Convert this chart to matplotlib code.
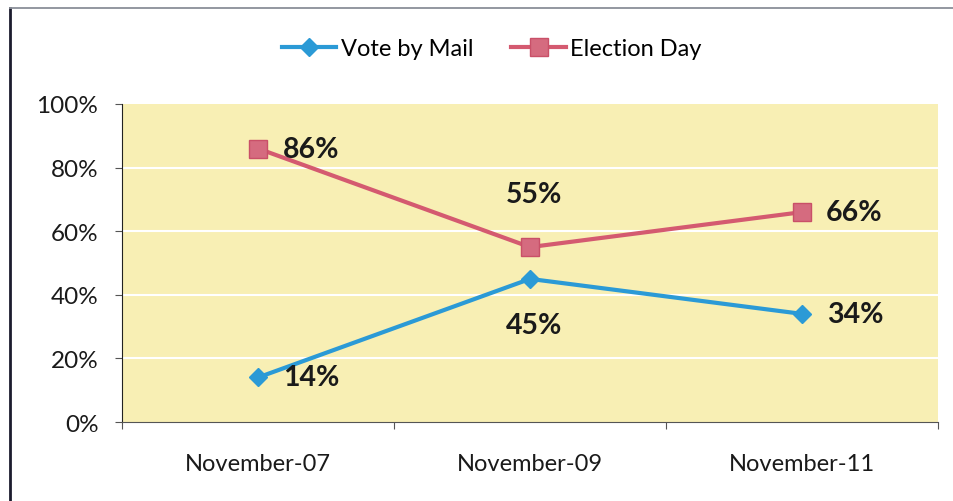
import matplotlib.pyplot as plt
from matplotlib.lines import Line2D

dates = ["November-07", "November-09", "November-11"]
vote_by_mail = [14, 45, 34]
election_day = [86, 55, 66]
y_ticks = [0, 20, 40, 60, 80, 100]

blue = "#2b9ad6"
red = "#d45a70"

plt.rcParams['font.family'] = ['Lato', 'DejaVu Sans']

fig = plt.figure(figsize=(9.54, 5.02), dpi=100)
ax = fig.add_axes([122 / 954, 1 - 423 / 502, 816 / 954, 318 / 502])

# outer chart frame (left and top edges only)
fig.lines.append(Line2D([10 / 954, 10 / 954], [0, 1 - 9 / 502], transform=fig.transFigure,
                        color="#1c1c2e", lw=2))
fig.lines.append(Line2D([10 / 954, 1], [1 - 9 / 502, 1 - 9 / 502], transform=fig.transFigure,
                        color="#8a8f99", lw=1.3))

ax.set_facecolor("#f8efb4")
xs = [i + 0.5 for i in range(len(dates))]

ax.plot(xs, vote_by_mail, color=blue, lw=3, marker="D", ms=9, mfc=blue, mec=blue,
        label="Vote by Mail", zorder=3)
ax.plot(xs, election_day, color=red, lw=3, marker="s", ms=13, mfc="#d56b7f", mec="#c95068",
        label="Election Day", zorder=3)

ax.set_xlim(0, 3)
ax.set_ylim(0, 100)
ax.set_yticks(y_ticks)
ax.set_yticklabels([f"{v}%" for v in y_ticks])
ax.set_xticks([0, 1, 2, 3])
ax.set_xticklabels([])
ax.set_xticks(xs, minor=True)
ax.set_xticklabels(dates, minor=True)
ax.tick_params(axis="x", which="minor", length=0, pad=22, labelsize=17, labelcolor="#1a1a1a")
ax.tick_params(axis="x", which="major", length=5, direction="out", color="#555555")
ax.tick_params(axis="y", length=5, color="#555555", labelsize=17.5, pad=12, labelcolor="#1a1a1a")

for v in y_ticks[1:-1]:
    ax.axhline(v, color="white", lw=1.5, zorder=1)

for s in ["top", "right"]:
    ax.spines[s].set_visible(False)
ax.spines["left"].set_color("#222222")
ax.spines["bottom"].set_color("#555555")

# value labels
lab = dict(fontsize=20.5, fontweight="bold", color="#1a1a1a", zorder=4)
ax.annotate(f"{election_day[0]}%", (xs[0], election_day[0]), xytext=(18, 0),
            textcoords="offset points", ha="left", va="center", **lab)
ax.annotate(f"{election_day[1]}%", (xs[1], election_day[1]), xytext=(3, 38),
            textcoords="offset points", ha="center", va="center", **lab)
ax.annotate(f"{election_day[2]}%", (xs[2], election_day[2]), xytext=(17, 0),
            textcoords="offset points", ha="left", va="center", **lab)
ax.annotate(f"{vote_by_mail[0]}%", (xs[0], vote_by_mail[0]), xytext=(18, 0),
            textcoords="offset points", ha="left", va="center", **lab)
ax.annotate(f"{vote_by_mail[1]}%", (xs[1], vote_by_mail[1]), xytext=(3, -33),
            textcoords="offset points", ha="center", va="center", **lab)
ax.annotate(f"{vote_by_mail[2]}%", (xs[2], vote_by_mail[2]), xytext=(18, 0),
            textcoords="offset points", ha="left", va="center", **lab)

fig.legend(loc="center", bbox_to_anchor=(492 / 954, 1 - 50 / 502), ncol=2, frameon=False,
           fontsize=17, handlelength=2.3, columnspacing=1.6, handletextpad=0.2)

fig.savefig("out.png", dpi=100, facecolor="white")
